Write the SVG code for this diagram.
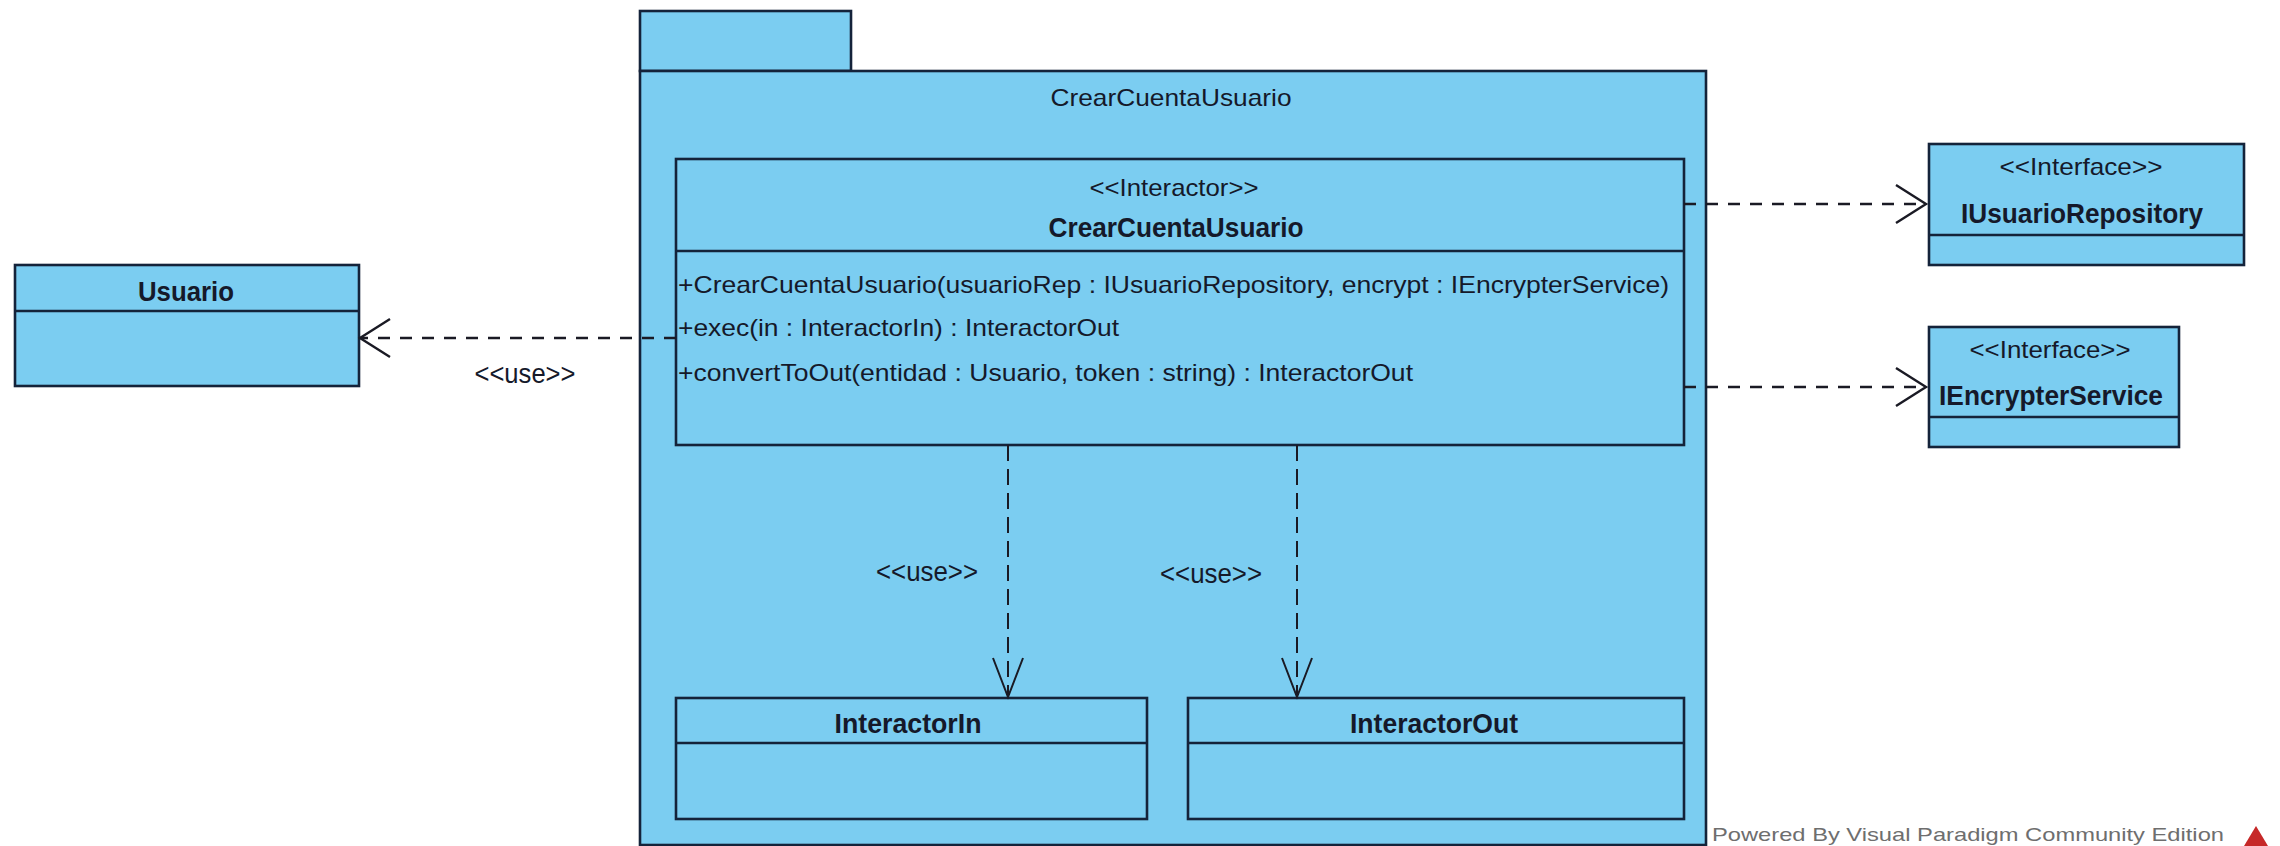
<svg xmlns="http://www.w3.org/2000/svg" width="2280" height="846" viewBox="0 0 2280 846">
<style>
.box{fill:#7BCDF1;stroke:#14233a;stroke-width:2.6}
.sep{stroke:#14233a;stroke-width:2.6}
.t{font-family:"Liberation Sans",Arial,sans-serif;fill:#15192a;font-size:24px}
.b{font-family:"Liberation Sans",Arial,sans-serif;fill:#15192a;font-size:28px;font-weight:bold}
.u{font-family:"Liberation Sans",Arial,sans-serif;fill:#15192a;font-size:28px}
.c{text-anchor:middle}
.dh{fill:none;stroke:#1a1a24;stroke-width:2.6;stroke-dasharray:12 10}
.dv{fill:none;stroke:#1a1a24;stroke-width:2;stroke-dasharray:16 8}
</style>
<defs>
<marker id="ah" markerUnits="userSpaceOnUse" viewBox="0 0 32 40" refX="31" refY="20" markerWidth="32" markerHeight="40" orient="auto" overflow="visible">
<path d="M1,1 L31,20 L1,39" fill="none" stroke="#1a1a24" stroke-width="2.4" stroke-dasharray="none"/>
</marker>
<marker id="av" markerUnits="userSpaceOnUse" viewBox="0 0 41 32" refX="40" refY="16" markerWidth="41" markerHeight="32" orient="auto" overflow="visible">
<path d="M1,1 L40,16 L1,31" fill="none" stroke="#1a1a24" stroke-width="2" stroke-dasharray="none"/>
</marker>
</defs>
<rect width="2280" height="846" fill="#ffffff"/>

<g id="pkg">
<rect class="box" x="640" y="11" width="211" height="60"/>
<rect class="box" x="640" y="71" width="1066" height="774"/>
<text class="t c" x="1171" y="106" textLength="241" lengthAdjust="spacingAndGlyphs">CrearCuentaUsuario</text>
</g>

<g id="interactor">
<rect class="box" x="676" y="159" width="1008" height="286"/>
<line class="sep" x1="676" y1="251" x2="1684" y2="251"/>
<text class="t c" x="1174" y="196" textLength="169" lengthAdjust="spacingAndGlyphs">&lt;&lt;Interactor&gt;&gt;</text>
<text class="b c" x="1176" y="237" textLength="255" lengthAdjust="spacingAndGlyphs">CrearCuentaUsuario</text>
<text class="t" x="678" y="293" textLength="991" lengthAdjust="spacingAndGlyphs">+CrearCuentaUsuario(usuarioRep : IUsuarioRepository, encrypt : IEncrypterService)</text>
<text class="t" x="678" y="336" textLength="441" lengthAdjust="spacingAndGlyphs">+exec(in : InteractorIn) : InteractorOut</text>
<text class="t" x="678" y="381" textLength="735" lengthAdjust="spacingAndGlyphs">+convertToOut(entidad : Usuario, token : string) : InteractorOut</text>
</g>

<g id="usuario">
<rect class="box" x="15" y="265" width="344" height="121"/>
<line class="sep" x1="15" y1="311" x2="359" y2="311"/>
<text class="b c" x="186" y="301" textLength="96" lengthAdjust="spacingAndGlyphs">Usuario</text>
</g>

<g id="iusuariorepository">
<rect class="box" x="1929" y="144" width="315" height="121"/>
<line class="sep" x1="1929" y1="235" x2="2244" y2="235"/>
<text class="t c" x="2081" y="175" textLength="163" lengthAdjust="spacingAndGlyphs">&lt;&lt;Interface&gt;&gt;</text>
<text class="b c" x="2082" y="223" textLength="242" lengthAdjust="spacingAndGlyphs">IUsuarioRepository</text>
</g>

<g id="iencrypterservice">
<rect class="box" x="1929" y="327" width="250" height="120"/>
<line class="sep" x1="1929" y1="417" x2="2179" y2="417"/>
<text class="t c" x="2050" y="358" textLength="161" lengthAdjust="spacingAndGlyphs">&lt;&lt;Interface&gt;&gt;</text>
<text class="b c" x="2051" y="405" textLength="224" lengthAdjust="spacingAndGlyphs">IEncrypterService</text>
</g>

<g id="interactorin">
<rect class="box" x="676" y="698" width="471" height="121"/>
<line class="sep" x1="676" y1="743" x2="1147" y2="743"/>
<text class="b c" x="908" y="733" textLength="147" lengthAdjust="spacingAndGlyphs">InteractorIn</text>
</g>

<g id="interactorout">
<rect class="box" x="1188" y="698" width="496" height="121"/>
<line class="sep" x1="1188" y1="743" x2="1684" y2="743"/>
<text class="b c" x="1434" y="733" textLength="168" lengthAdjust="spacingAndGlyphs">InteractorOut</text>
</g>

<g id="connectors">
<line class="dh" x1="676" y1="338" x2="360" y2="338" marker-end="url(#ah)"/>
<text class="u c" x="525" y="383" textLength="101" lengthAdjust="spacingAndGlyphs">&lt;&lt;use&gt;&gt;</text>
<line class="dh" x1="1684" y1="204" x2="1926" y2="204" marker-end="url(#ah)"/>
<line class="dh" x1="1684" y1="387" x2="1926" y2="387" marker-end="url(#ah)"/>
<line class="dv" x1="1008" y1="445" x2="1008" y2="697" marker-end="url(#av)"/>
<text class="u c" x="927" y="581" textLength="102" lengthAdjust="spacingAndGlyphs">&lt;&lt;use&gt;&gt;</text>
<line class="dv" x1="1297" y1="445" x2="1297" y2="697" marker-end="url(#av)"/>
<text class="u c" x="1211" y="583" textLength="102" lengthAdjust="spacingAndGlyphs">&lt;&lt;use&gt;&gt;</text>
</g>

<g id="watermark">
<text x="1712" y="841" font-family="'Liberation Sans',Arial,sans-serif" font-size="19" fill="#6e6e6e" textLength="512" lengthAdjust="spacingAndGlyphs">Powered By Visual Paradigm Community Edition</text>
<path d="M2256,826 L2268,846 L2244,846 Z" fill="#c62828"/>
</g>
</svg>
